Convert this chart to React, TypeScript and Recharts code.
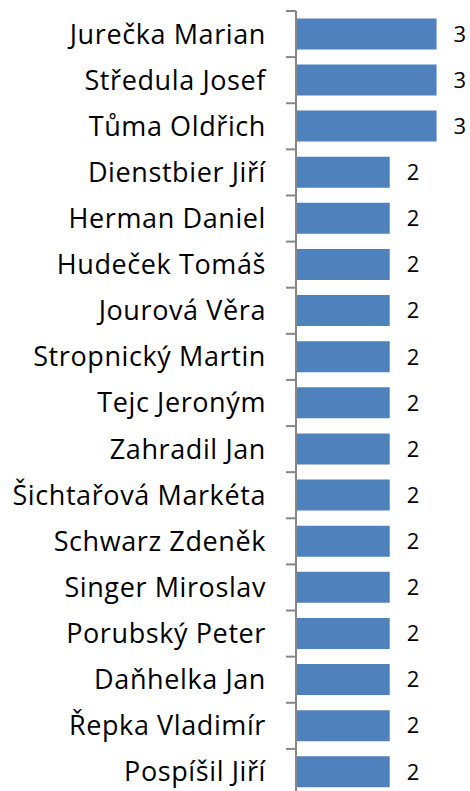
import { BarChart, Bar, XAxis, YAxis, LabelList } from 'recharts';

const names = [
  'Jurečka Marian',
  'Středula Josef',
  'Tůma Oldřich',
  'Dienstbier Jiří',
  'Herman Daniel',
  'Hudeček Tomáš',
  'Jourová Věra',
  'Stropnický Martin',
  'Tejc Jeroným',
  'Zahradil Jan',
  'Šichtařová Markéta',
  'Schwarz Zdeněk',
  'Singer Miroslav',
  'Porubský Peter',
  'Daňhelka Jan',
  'Řepka Vladimír',
  'Pospíšil Jiří',
];

const counts = [3, 3, 3, 2, 2, 2, 2, 2, 2, 2, 2, 2, 2, 2, 2, 2, 2];

const data = names.map((name, i) => ({ name, value: counts[i] }));

const FONT = '"Open Sans", Lato, sans-serif';
const CHART_H = 800;
const MARGIN = { top: 11, right: 10, bottom: 5, left: 0 };
const AXIS_W = 296;
const TICK_LEN = 10;
const TICK_GAP = 20;
const step = (CHART_H - MARGIN.top - MARGIN.bottom) / names.length;

// category label plus a tick mark on the band boundary (Excel style)
const NameTick = ({ x, y, payload, index }: any) => {
  const ax = x + TICK_GAP;
  return (
    <g>
      <line x1={ax} x2={ax + TICK_LEN} y1={y - step / 2} y2={y - step / 2} stroke="#868686" strokeWidth={2} />
      {index === names.length - 1 && (
        <line x1={ax} x2={ax + TICK_LEN} y1={y + step / 2} y2={y + step / 2} stroke="#868686" strokeWidth={2} />
      )}
      <text x={x} y={y} dy="0.35em" textAnchor="end" fontFamily={FONT} fontSize={27} letterSpacing={0.6} fill="#000">
        {payload.value}
      </text>
    </g>
  );
};

export default function App() {
  return (
    <div style={{ position: 'fixed', top: 0, left: 0, width: 470, height: 791, overflow: 'hidden', background: '#fff' }}>
      <BarChart width={470} height={CHART_H} data={data} layout="vertical" margin={MARGIN} barCategoryGap="16%">
        <XAxis type="number" domain={[0, 3.5]} hide />
        <YAxis
          type="category"
          dataKey="name"
          width={AXIS_W}
          tickLine={false}
          tickSize={TICK_LEN}
          tickMargin={TICK_GAP}
          axisLine={{ stroke: '#868686', strokeWidth: 2 }}
          tick={<NameTick />}
          interval={0}
        />
        <Bar dataKey="value" fill="#4F81BD" isAnimationActive={false}>
          <LabelList dataKey="value" position="right" offset={17} fill="#000" fontFamily={FONT} fontSize={22} />
        </Bar>
      </BarChart>
    </div>
  );
}
